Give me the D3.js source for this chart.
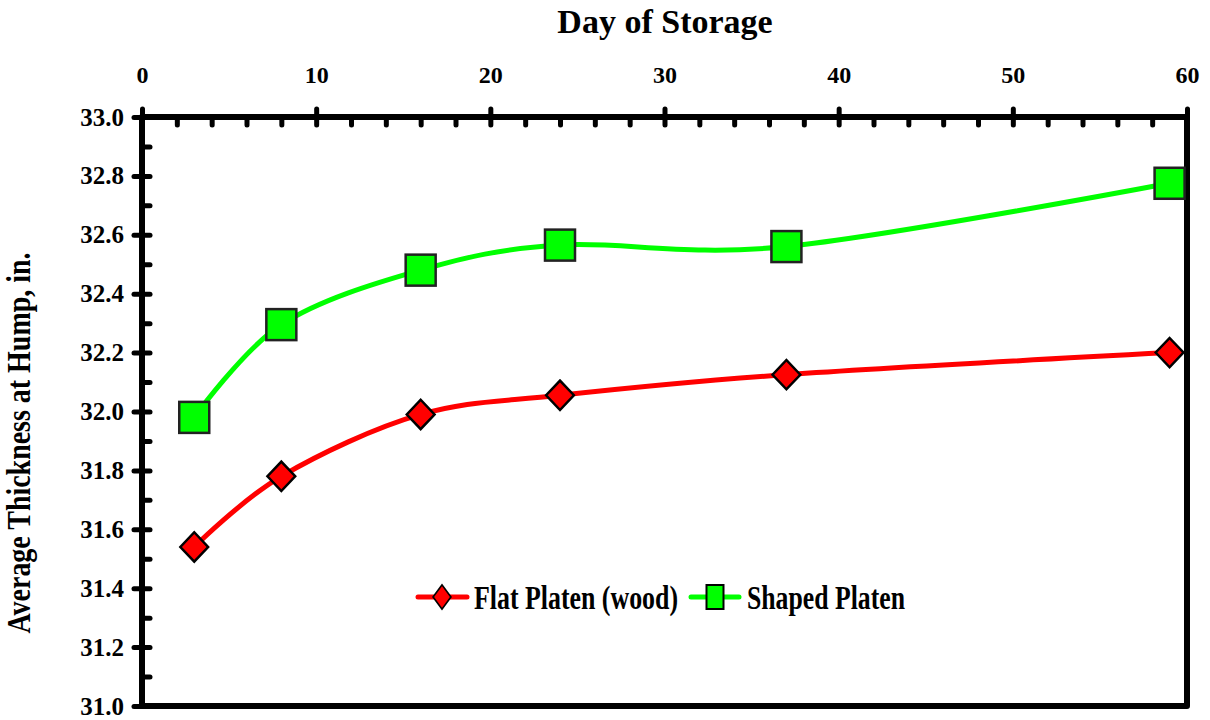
<!DOCTYPE html>
<html><head><meta charset="utf-8">
<script src="https://cdn.jsdelivr.net/npm/d3@7"></script>
<style>
body{margin:0;background:#fff;}
text{font-family:"Liberation Serif","Times New Roman",serif;font-weight:bold;fill:#000;}
</style></head>
<body><svg id="c" width="1210" height="720"></svg>
<script>
const days = [3, 8, 16, 24, 37, 59];
const flatPlaten = [31.54, 31.78, 31.99, 32.055, 32.125, 32.20];
const shapedPlaten = [31.98, 32.295, 32.48, 32.565, 32.56, 32.775];
const seriesNames = ["Flat Platen (wood)", "Shaped Platen"];
const xTicks = [0, 10, 20, 30, 40, 50, 60];
const yTicks = [31.0, 31.2, 31.4, 31.6, 31.8, 32.0, 32.2, 32.4, 32.6, 32.8, 33.0];

const svg = d3.select("#c");
const L = 142, R = 1187, T = 117, B = 706;
const x = d3.scaleLinear().domain([0, 60]).range([L, R]);
const y = d3.scaleLinear().domain([31, 33]).range([B, T]);

// titles
svg.append("text").attr("x", 665).attr("y", 33).attr("text-anchor", "middle")
  .style("font-size", "34px").text("Day of Storage");
svg.append("text").attr("transform", "translate(30,443) rotate(-90)").attr("text-anchor", "middle")
  .attr("textLength", 381).attr("lengthAdjust", "spacingAndGlyphs")
  .style("font-size", "33px").text("Average Thickness at Hump, in.");

// minor ticks
const xMinor = d3.range(0, 61, 2).filter(v => v % 10 !== 0);
const yMinor = d3.range(31.1, 33.0, 0.2);
svg.append("g").attr("transform", `translate(0,${T})`)
  .call(d3.axisTop(x).tickValues(xMinor).tickSize(-8).tickFormat(""))
  .call(g => g.select(".domain").remove())
  .call(g => g.selectAll("line").attr("stroke-width", 5).attr("stroke-linecap", "round"));
svg.append("g").attr("transform", `translate(${L},0)`)
  .call(d3.axisLeft(y).tickValues(yMinor).tickSize(-8).tickFormat(""))
  .call(g => g.select(".domain").remove())
  .call(g => g.selectAll("line").attr("stroke-width", 5).attr("stroke-linecap", "round"));

// frame
svg.append("rect").attr("x", L).attr("y", T).attr("width", R - L).attr("height", B - T)
  .attr("fill", "none").attr("stroke", "#000").attr("stroke-width", 6)
  .attr("stroke-linejoin", "round");

// major axes (cross ticks)
svg.append("g").attr("transform", `translate(0,${T})`)
  .call(d3.axisTop(x).tickValues(xTicks).tickSize(8).tickPadding(26).tickFormat(d3.format("d")))
  .call(g => g.select(".domain").remove())
  .call(g => g.selectAll("line").attr("y1", 8).attr("stroke-width", 5).attr("stroke-linecap", "round"))
  .call(g => g.selectAll("text").style("font-size", "24px"));
svg.append("g").attr("transform", `translate(${L},0)`)
  .call(d3.axisLeft(y).tickValues(yTicks).tickSize(8).tickPadding(10).tickFormat(d3.format(".1f")))
  .call(g => g.select(".domain").remove())
  .call(g => g.selectAll("line").attr("x1", 8).attr("stroke-width", 5).attr("stroke-linecap", "round"))
  .call(g => g.selectAll("text").style("font-size", "25px"));

const line = d3.line().x(d => x(d[0])).y(d => y(d[1])).curve(d3.curveCatmullRom.alpha(0));
const flatData = days.map((d, i) => [d, flatPlaten[i]]);
const shapedData = days.map((d, i) => [d, shapedPlaten[i]]);

svg.append("path").datum(flatData).attr("d", line).attr("fill", "none")
  .attr("stroke", "#ff0000").attr("stroke-width", 5);
svg.append("path").datum(shapedData).attr("d", line).attr("fill", "none")
  .attr("stroke", "#00ff00").attr("stroke-width", 5);

const diamond = d3.symbol().type(d3.symbolSquare).size(430);
svg.append("g").selectAll("path").data(flatData).join("path")
  .attr("d", diamond)
  .attr("transform", d => `translate(${x(d[0])},${y(d[1])}) scale(0.95,1) rotate(45)`)
  .attr("fill", "#ff0000").attr("stroke", "#000").attr("stroke-width", 2.5);
svg.append("g").selectAll("rect").data(shapedData).join("rect")
  .attr("x", d => x(d[0]) - 15).attr("y", d => y(d[1]) - 15.5)
  .attr("width", 30).attr("height", 31)
  .attr("fill", "#00ff00").attr("stroke", "#222").attr("stroke-width", 2.5);

// legend
const lg = svg.append("g");
const ly = 597;
lg.append("line").attr("x1", 418).attr("x2", 467).attr("y1", ly).attr("y2", ly)
  .attr("stroke", "#ff0000").attr("stroke-width", 5).attr("stroke-linecap", "round");
lg.append("path").attr("d", d3.symbol().type(d3.symbolSquare).size(290)())
  .attr("transform", `translate(442,${ly}) scale(0.74,1) rotate(45)`)
  .attr("fill", "#ff0000").attr("stroke", "#000").attr("stroke-width", 2);
lg.append("text").attr("x", 474).attr("y", 609).style("font-size", "33px")
  .attr("textLength", 204).attr("lengthAdjust", "spacingAndGlyphs").text(seriesNames[0]);
lg.append("line").attr("x1", 691).attr("x2", 739).attr("y1", ly).attr("y2", ly)
  .attr("stroke", "#00ff00").attr("stroke-width", 5).attr("stroke-linecap", "round");
lg.append("rect").attr("x", 706.5).attr("y", ly - 12).attr("width", 17).attr("height", 24)
  .attr("fill", "#00ff00").attr("stroke", "#000").attr("stroke-width", 2);
lg.append("text").attr("x", 747).attr("y", 609).style("font-size", "33px")
  .attr("textLength", 158).attr("lengthAdjust", "spacingAndGlyphs").text(seriesNames[1]);
</script></body></html>
